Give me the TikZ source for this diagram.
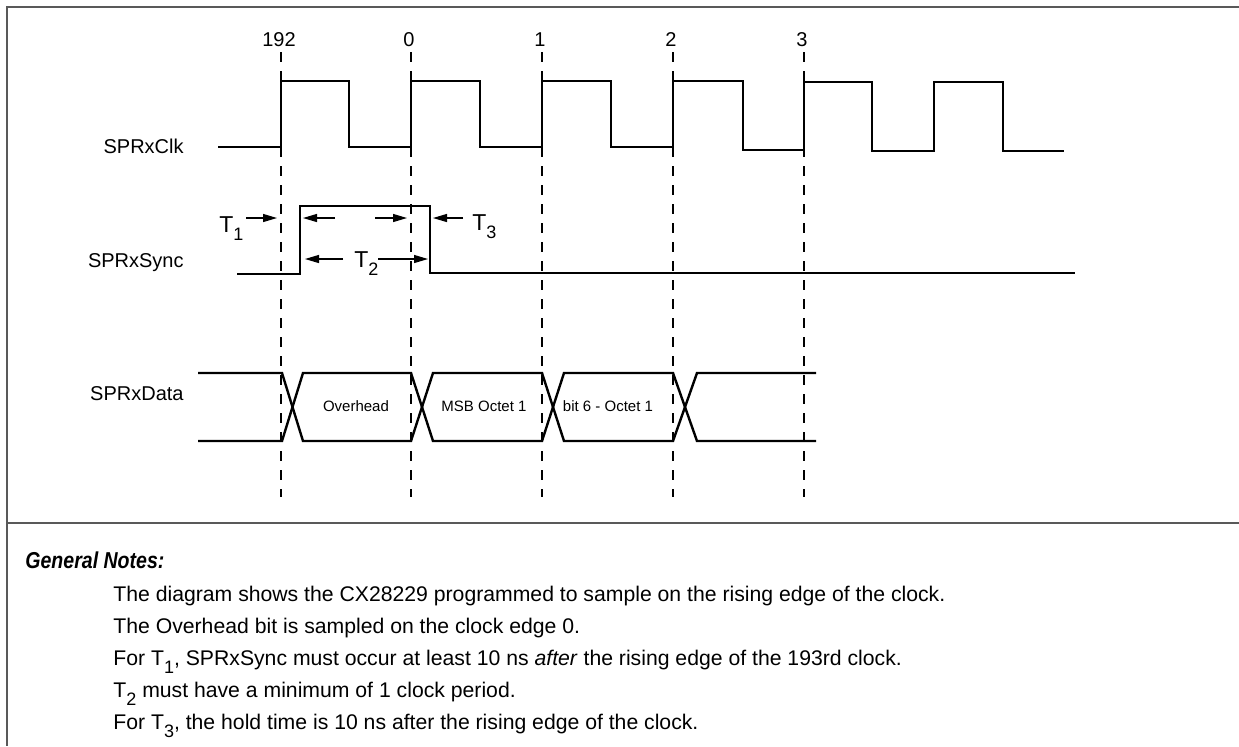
\documentclass[tikz,border=0pt]{standalone}
\usepackage{fontspec}
\setmainfont{Liberation Sans}
\newfontfamily\headfont{Liberation Sans}[FakeStretch=0.85]
\usetikzlibrary{arrows.meta}
\newcommand{\lowsub}[1]{\raisebox{-4pt}{\fontsize{9}{9}\selectfont #1}}

\begin{document}
\begin{tikzpicture}[x=0.5pt,y=-0.5pt,
  frame/.style={line width=1pt, black!65},
  grid/.style={line width=1.1pt, dash pattern=on 5pt off 4.5pt},
  wave/.style={line width=1.2pt},
  tarrow/.style={line width=0.6pt, -{Triangle[length=7pt,width=4pt]}},
  siglabel/.style={anchor=base east, inner sep=0pt, font=\fontsize{10}{12}\selectfont},
  numlabel/.style={anchor=base, inner sep=0pt, font=\fontsize{10}{12}\selectfont},
  tlabel/.style={anchor=base west, inner sep=0pt, font=\fontsize{11.5}{13}\selectfont},
  cell/.style={inner sep=0pt, font=\fontsize{7.5}{9}\selectfont},
  note/.style={anchor=base west, inner sep=0pt, font=\fontsize{10.6}{12}\selectfont}]
\useasboundingbox (0,0) rectangle (1239,746);

% frame
\draw[frame] (1239,7) -- (7,7) -- (7,746);
\draw[frame] (7,522.5) -- (1239,522.5);

% clock edges
\foreach \x/\t [count=\i] in {281/192, 411/0, 542/1, 673/2, 804/3}{
  \node[numlabel] (n\i) at (\x-2,46) {\t};
  \coordinate (g\i) at (\x,497);
  \draw[grid] (\x,52) -- (g\i);
}

% signal names
\node[siglabel] (clk) at (184,153) {SPRxClk};
\node[siglabel] (sync) at (184,267) {SPRxSync};
\node[siglabel] (data) at (184,400) {SPRxData};

% SPRxClk
\draw[wave] (218,147) -- (281,147) -- (281,81) -- (349,81) -- (349,147)
  -- (411,147) -- (411,81) -- (480,81) -- (480,147)
  -- (542,147) -- (542,81) -- (611,81) -- (611,147)
  -- (673,147) -- (673,81) -- (743,81) -- (743,150)
  -- (804,150) -- (804,82) -- (872,82) -- (872,151)
  -- (934,151) -- (934,82) -- (1003,82) -- (1003,151) -- (1064,151);

% SPRxSync
\draw[wave] (237,274) -- (300,274) -- (300,206) -- (430,206) -- (430,273) -- (1075,273);

% timing marks
\node[tlabel] (t1) at (219,232) {T\lowsub{1}};
\node[tlabel] (t2) at (354,267) {T\lowsub{2}};
\node[tlabel] (t3) at (472,230) {T\lowsub{3}};
\coordinate (t1a) at (246,218);
\coordinate (t1b) at (277,218);
\coordinate (t2a) at (343,259);
\coordinate (t2b) at (305,259);
\coordinate (t2c) at (378,259);
\coordinate (t2d) at (428,259);
\coordinate (t3a) at (463,218);
\coordinate (t3b) at (433,218);
\coordinate (ina) at (335,218);
\coordinate (inb) at (303,218);
\coordinate (inc) at (375,218);
\coordinate (ind) at (407,218);
\draw[tarrow] (t1a) -- (t1b);
\draw[tarrow] (ina) -- (inb);
\draw[tarrow] (inc) -- (ind);
\draw[tarrow] (t3a) -- (t3b);
\draw[tarrow] (t2a) -- (t2b);
\draw[tarrow] (t2c) -- (t2d);

% SPRxData
\draw[wave] (198,373) -- (282,373) -- (303,441) -- (411,441) -- (433,373) -- (542,373)
  -- (564,441) -- (673,441) -- (697,373) -- (816,373);
\draw[wave] (198,441) -- (282,441) -- (303,373) -- (411,373) -- (433,441) -- (542,441)
  -- (564,373) -- (673,373) -- (697,441) -- (816,441);
\node[cell] (oh) at (356,406) {Overhead};
\node[cell] (msb) at (484,406) {MSB Octet 1};
\node[cell] (b6) at (608,406) {bit 6 - Octet 1};

% notes
\node[anchor=base west, inner sep=0pt, font=\headfont\bfseries\itshape\fontsize{11.5}{13}\selectfont] (gn) at (25,568) {General Notes:};
\node[note] (l1) at (113,601.5) {The diagram shows the CX28229 programmed to sample on the rising edge of the clock.};
\node[note] (l2) at (113,633.5) {The Overhead bit is sampled on the clock edge 0.};
\node[note] (l3) at (113,665.5) {For T\lowsub{1}, SPRxSync must occur at least 10 ns \textit{after} the rising edge of the 193rd clock.};
\node[note] (l4) at (113,697.5) {T\lowsub{2} must have a minimum of 1 clock period.};
\node[note] (l5) at (113,729.5) {For T\lowsub{3}, the hold time is 10 ns after the rising edge of the clock.};
\end{tikzpicture}
\end{document}
